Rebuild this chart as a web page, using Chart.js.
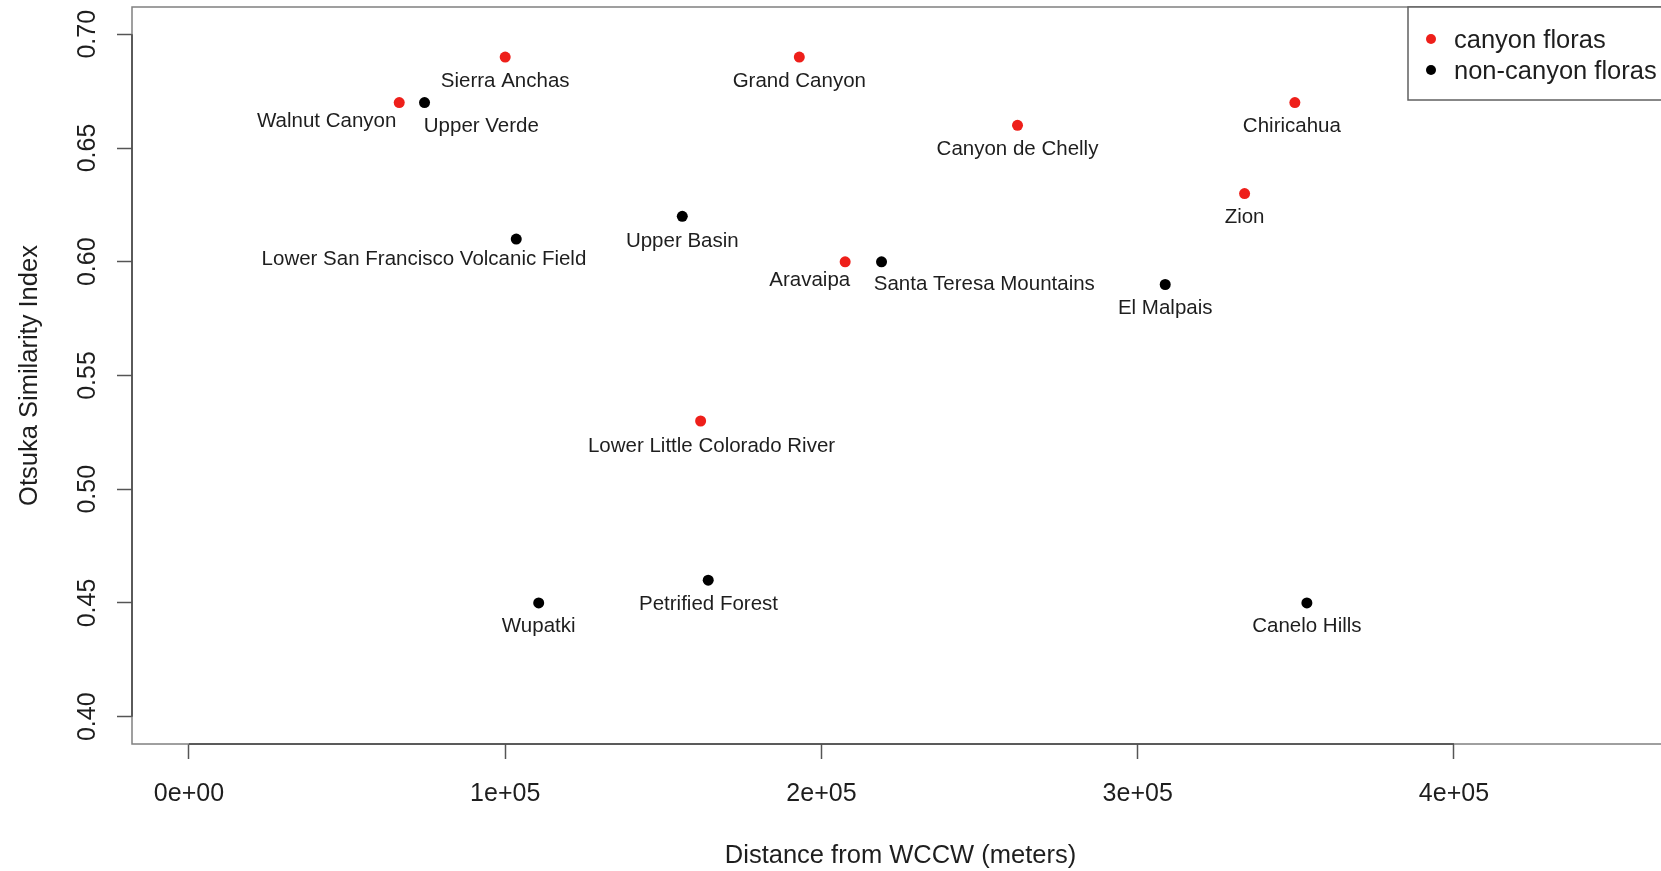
<!DOCTYPE html>
<html>
<head>
<meta charset="utf-8">
<script src="https://cdn.jsdelivr.net/npm/chart.js@4.4.1/dist/chart.umd.min.js"></script>
<style>
  html, body { margin: 0; padding: 0; background: #ffffff; overflow: hidden; }
  #wrap { width: 1700px; height: 871px; }
</style>
</head>
<body>
<div id="wrap"><canvas id="c" width="1700" height="871"></canvas></div>
<script>
// ---------------- data ----------------
const seriesNames = ['canyon floras', 'non-canyon floras'];

const canyonSites = ['Sierra Anchas', 'Walnut Canyon', 'Grand Canyon', 'Canyon de Chelly',
  'Aravaipa', 'Chiricahua', 'Zion', 'Lower Little Colorado River'];
const canyonDistance = [100000, 66500, 193000, 262000, 207500, 349700, 333800, 161800];
const canyonSimilarity = [0.69, 0.67, 0.69, 0.66, 0.60, 0.67, 0.63, 0.53];

const nonCanyonSites = ['Upper Verde', 'Lower San Francisco Volcanic Field', 'Upper Basin',
  'Santa Teresa Mountains', 'El Malpais', 'Petrified Forest', 'Wupatki', 'Canelo Hills'];
const nonCanyonDistance = [74500, 103500, 156000, 219000, 308700, 164200, 110600, 353500];
const nonCanyonSimilarity = [0.67, 0.61, 0.62, 0.60, 0.59, 0.46, 0.45, 0.45];

const xTickValues = [0, 100000, 200000, 300000, 400000];
const xTickLabels = ['0e+00', '1e+05', '2e+05', '3e+05', '4e+05'];
const yTickValues = [0.40, 0.45, 0.50, 0.55, 0.60, 0.65, 0.70];
const yTickLabels = ['0.40', '0.45', '0.50', '0.55', '0.60', '0.65', '0.70'];

const xAxisTitle = 'Distance from WCCW (meters)';
const yAxisTitle = 'Otsuka Similarity Index';

// ---------------- style / placement ----------------
const FONT = '"Liberation Sans", Arial, Helvetica, sans-serif';
const RED = '#ee1f1a';
const BLACK = '#000000';
const TEXT = '#1e1e1e';
// label centre offset from its point, in pixels
const canyonLabelNudge = [[0, 24.7], [-72.6, 18.5], [0, 24.8], [0, 24.5],
  [-35.4, 18.6], [-3, 23.7], [0, 23.5], [10.9, 25.0]];
const nonCanyonLabelNudge = [[56.8, 23.4], [-92.3, 19.9], [0, 25.2], [102.8, 22.1],
  [0, 23.5], [0.3, 23.7], [0, 23.4], [0, 23.4]];

function toPoints(xs, ys) { return xs.map((x, i) => ({ x: x, y: ys[i] })); }

const rPlot = {
  id: 'rPlot',
  beforeDatasetsDraw(chart) {
    const { ctx, chartArea: a, scales: { x, y } } = chart;
    ctx.save();
    ctx.strokeStyle = '#808080';
    ctx.lineWidth = 1.5;
    ctx.strokeRect(a.left, a.top, a.right - a.left, a.bottom - a.top);
    ctx.strokeStyle = '#444444';
    ctx.beginPath();
    ctx.moveTo(x.getPixelForValue(xTickValues[0]), a.bottom);
    ctx.lineTo(x.getPixelForValue(xTickValues[xTickValues.length - 1]), a.bottom);
    ctx.moveTo(a.left, y.getPixelForValue(yTickValues[0]));
    ctx.lineTo(a.left, y.getPixelForValue(yTickValues[yTickValues.length - 1]));
    ctx.stroke();
    ctx.restore();
  },
  afterDatasetsDraw(chart) {
    const { ctx } = chart;
    ctx.save();
    ctx.font = '20.5px ' + FONT;
    ctx.fillStyle = TEXT;
    ctx.textAlign = 'center';
    ctx.textBaseline = 'middle';
    chart.data.datasets.forEach((ds, di) => {
      const meta = chart.getDatasetMeta(di);
      meta.data.forEach((pt, i) => {
        const n = ds.labelNudge[i];
        ctx.fillText(ds.siteNames[i], pt.x + n[0], pt.y + n[1]);
      });
    });
    ctx.restore();
  },
  afterDraw(chart) {
    const { ctx, chartArea: a } = chart;
    ctx.save();
    const L = a.right - 261, T = a.top, H = 93;
    ctx.fillStyle = '#ffffff';
    ctx.fillRect(L, T, a.right - L, H);
    ctx.strokeStyle = '#606060';
    ctx.lineWidth = 1.5;
    ctx.strokeRect(L, T, a.right - L, H);
    chart.data.datasets.forEach((ds, i) => {
      const cy = T + 32 + i * 31;
      ctx.fillStyle = ds.backgroundColor;
      ctx.beginPath();
      ctx.arc(L + 23, cy, 5, 0, Math.PI * 2);
      ctx.fill();
      ctx.fillStyle = TEXT;
      ctx.font = '25.5px ' + FONT;
      ctx.textAlign = 'left';
      ctx.textBaseline = 'middle';
      ctx.fillText(ds.label, L + 46, cy + 2);
    });
    ctx.restore();
  }
};

new Chart(document.getElementById('c'), {
  type: 'scatter',
  data: {
    datasets: [
      { label: seriesNames[0], data: toPoints(canyonDistance, canyonSimilarity),
        siteNames: canyonSites, labelNudge: canyonLabelNudge,
        backgroundColor: RED, borderWidth: 0, pointRadius: 5.5, pointHoverRadius: 5.5 },
      { label: seriesNames[1], data: toPoints(nonCanyonDistance, nonCanyonSimilarity),
        siteNames: nonCanyonSites, labelNudge: nonCanyonLabelNudge,
        backgroundColor: BLACK, borderWidth: 0, pointRadius: 5.5, pointHoverRadius: 5.5 }
    ]
  },
  options: {
    responsive: false,
    devicePixelRatio: 1,
    animation: false,
    events: [],
    layout: { padding: { left: 0, top: 7, right: 31, bottom: 0 } },
    plugins: { legend: { display: false }, tooltip: { enabled: false } },
    scales: {
      x: {
        type: 'linear', min: -18000, max: 468000,
        afterBuildTicks: s => { s.ticks = xTickValues.map(v => ({ value: v })); },
        afterFit: s => { s.height = 127; s.paddingLeft = 0; s.paddingRight = 0; s.paddingTop = 0; s.paddingBottom = 0; },
        grid: { display: true, drawOnChartArea: false, drawTicks: true, tickLength: 15, tickColor: '#555555', tickWidth: 1.5 },
        border: { display: false },
        ticks: { autoSkip: false, minRotation: 0, maxRotation: 0, padding: 20.5, color: TEXT,
          font: { family: FONT, size: 25 }, callback: (v, i) => xTickLabels[i] },
        title: { display: true, text: xAxisTitle, color: TEXT, font: { family: FONT, size: 25.5 },
          padding: { top: 0, bottom: 0 } }
      },
      y: {
        type: 'linear', min: 0.388, max: 0.712,
        afterBuildTicks: s => { s.ticks = yTickValues.map(v => ({ value: v })); },
        afterFit: s => { s.width = 132; s.paddingLeft = 0; s.paddingRight = 0; s.paddingTop = 0; s.paddingBottom = 0; },
        grid: { display: true, drawOnChartArea: false, drawTicks: true, tickLength: 15, tickColor: '#555555', tickWidth: 1.5 },
        border: { display: false },
        ticks: { autoSkip: false, minRotation: 90, maxRotation: 90, crossAlign: 'center', padding: 5, color: TEXT,
          font: { family: FONT, size: 25 }, callback: (v, i) => yTickLabels[i] },
        title: { display: true, text: yAxisTitle, color: TEXT, font: { family: FONT, size: 25.5 },
          padding: { top: 14.2, bottom: 0 } }
      }
    }
  },
  plugins: [rPlot]
});
</script>
</body>
</html>
